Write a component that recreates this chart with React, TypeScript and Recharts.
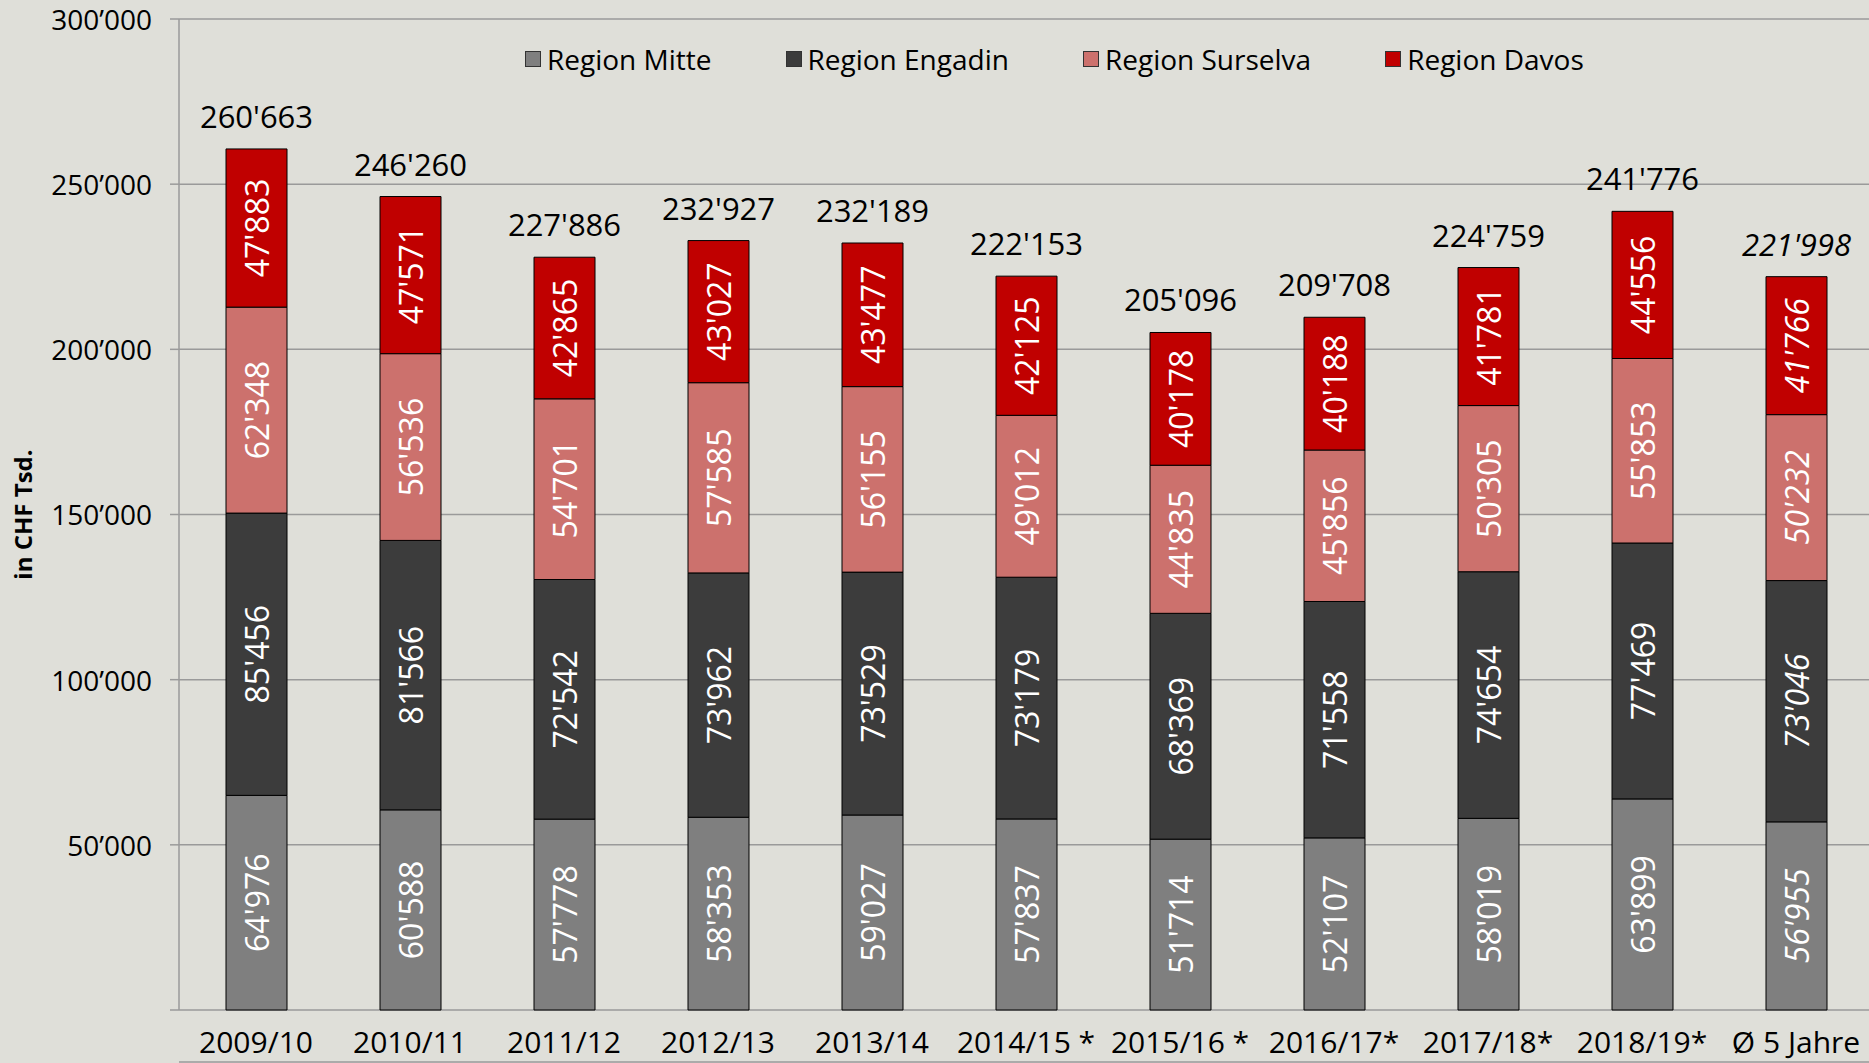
import { BarChart, Bar, XAxis, YAxis, CartesianGrid, Legend, LabelList, Label } from 'recharts'

const SEASONS = ['2009/10', '2010/11', '2011/12', '2012/13', '2013/14', '2014/15 *', '2015/16 *', '2016/17*', '2017/18*', '2018/19*', 'Ø 5 Jahre']
const MITTE = [64976, 60588, 57778, 58353, 59027, 57837, 51714, 52107, 58019, 63899, 56955]
const ENGADIN = [85456, 81566, 72542, 73962, 73529, 73179, 68369, 71558, 74654, 77469, 73046]
const SURSELVA = [62348, 56536, 54701, 57585, 56155, 49012, 44835, 45856, 50305, 55853, 50232]
const DAVOS = [47883, 47571, 42865, 43027, 43477, 42125, 40178, 40188, 41781, 44556, 41766]
const TOTALS = [260663, 246260, 227886, 232927, 232189, 222153, 205096, 209708, 224759, 241776, 221998]
const Y_TICKS = [0, 50000, 100000, 150000, 200000, 250000, 300000]
// category boundaries, for the tick marks between the bars
const EDGE_TICKS = [0, 1, 2, 3, 4, 5, 6, 7, 8, 9, 10, 11]
const LEGEND_ORDER = ['Region Mitte', 'Region Engadin', 'Region Surselva', 'Region Davos']

const COLORS = {
  mitte: '#7f7f7f',
  engadin: '#3c3c3c',
  surselva: '#cc716d',
  davos: '#c00000',
}

const FONT = '"Open Sans", "DejaVu Sans", sans-serif'
const GRID = '#9a9a9a'
const AVG_INDEX = SEASONS.length - 1

const data = SEASONS.map((season, i) => ({
  season,
  mitte: MITTE[i],
  engadin: ENGADIN[i],
  surselva: SURSELVA[i],
  davos: DAVOS[i],
  total: TOTALS[i],
}))

const fmt = (v: number, q = "'") => String(v).replace(/\B(?=(\d{3})+(?!\d))/g, q)

function box(props: any) {
  const vb = props.viewBox ?? props
  return { x: Number(vb.x), y: Number(vb.y), width: Number(vb.width), height: Number(vb.height) }
}

const InnerLabel = (props: any) => {
  const { x, y, width, height } = box(props)
  const cx = x + width / 2
  const cy = y + height / 2
  return (
    <text
      x={cx}
      y={cy}
      transform={`rotate(-90 ${cx} ${cy})`}
      textAnchor="middle"
      dominantBaseline="central"
      fill="#ffffff"
      fontSize={32}
      fontFamily={FONT}
      fontStyle={props.index === AVG_INDEX ? 'italic' : 'normal'}
    >
      {fmt(Number(props.value))}
    </text>
  )
}

const TotalLabel = (props: any) => {
  const { x, y, width } = box(props)
  return (
    <text
      x={x + width / 2}
      y={y - 21}
      textAnchor="middle"
      fill="#000"
      fontSize={31}
      fontFamily={FONT}
      fontStyle={props.index === AVG_INDEX ? 'italic' : 'normal'}
    >
      {fmt(Number(props.value))}
    </text>
  )
}

const LegendContent = (props: any) => {
  const items = [...(props.payload ?? [])].sort(
    (a: any, b: any) => LEGEND_ORDER.indexOf(a.value) - LEGEND_ORDER.indexOf(b.value)
  )
  return (
    <div style={{ display: 'flex', alignItems: 'center', fontFamily: FONT, fontSize: 28, color: '#000', whiteSpace: 'nowrap' }}>
      {items.map((p: any) => (
        <div key={p.value} style={{ display: 'flex', alignItems: 'center', marginRight: 74 }}>
          <span style={{ display: 'inline-block', width: 14, height: 14, background: p.color, border: '1px solid #333', marginRight: 6 }} />
          <span>{p.value}</span>
        </div>
      ))}
    </div>
  )
}

export default function App() {
  return (
    <div style={{ position: 'absolute', left: 0, top: 0, width: 1869, height: 1063, overflow: 'hidden', background: '#dfdfd9' }}>
      <BarChart width={1873} height={1063} data={data} margin={{ top: 19, right: 0, bottom: 0, left: 0 }} barSize={61}>
        <CartesianGrid xAxisId="cat" vertical={false} stroke={GRID} strokeWidth={1.5} />
        <XAxis
          xAxisId="edge"
          type="number"
          domain={[0, 11]}
          ticks={EDGE_TICKS}
          tick={false}
          tickSize={9}
          height={1}
          stroke={GRID}
          axisLine={{ stroke: GRID, strokeWidth: 1.5 }}
          tickLine={{ stroke: GRID, strokeWidth: 1.5 }}
        />
        <XAxis
          xAxisId="cat"
          dataKey="season"
          interval={0}
          axisLine={false}
          tickLine={false}
          tickSize={0}
          tickMargin={22}
          height={52}
          tick={{ fill: '#000', fontSize: 30, fontFamily: FONT }}
        />
        <YAxis
          domain={[0, 300000]}
          ticks={Y_TICKS}
          width={179}
          tickSize={9}
          tickMargin={18}
          stroke={GRID}
          axisLine={{ stroke: GRID, strokeWidth: 1.5 }}
          tickLine={{ stroke: GRID, strokeWidth: 1.5 }}
          tick={{ fill: '#000', fontSize: 28, fontFamily: FONT, dy: 1 }}
          tickFormatter={(v: number) => (v === 0 ? '' : fmt(v, '’'))}
        >
          <Label
            content={(p: any) => {
              const vb = p.viewBox
              const cy = vb.y + vb.height / 2
              return (
                <text
                  x={22}
                  y={cy}
                  transform={`rotate(-90 22 ${cy})`}
                  textAnchor="middle"
                  dominantBaseline="central"
                  fontSize={24}
                  fontWeight="bold"
                  fontFamily={FONT}
                  fill="#000"
                >
                  in CHF Tsd.
                </text>
              )
            }}
          />
        </YAxis>
        <Legend
          verticalAlign="middle"
          content={<LegendContent />}
          wrapperStyle={{ position: 'absolute', top: 40, left: 525, width: 'auto' }}
        />
        <Bar xAxisId="cat" dataKey="mitte" name="Region Mitte" stackId="a" fill={COLORS.mitte} stroke="#000" strokeWidth={1} isAnimationActive={false}>
          <LabelList dataKey="mitte" content={<InnerLabel />} />
        </Bar>
        <Bar xAxisId="cat" dataKey="engadin" name="Region Engadin" stackId="a" fill={COLORS.engadin} stroke="#000" strokeWidth={1} isAnimationActive={false}>
          <LabelList dataKey="engadin" content={<InnerLabel />} />
        </Bar>
        <Bar xAxisId="cat" dataKey="surselva" name="Region Surselva" stackId="a" fill={COLORS.surselva} stroke="#000" strokeWidth={1} isAnimationActive={false}>
          <LabelList dataKey="surselva" content={<InnerLabel />} />
        </Bar>
        <Bar xAxisId="cat" dataKey="davos" name="Region Davos" stackId="a" fill={COLORS.davos} stroke="#000" strokeWidth={1} isAnimationActive={false}>
          <LabelList dataKey="davos" content={<InnerLabel />} />
          <LabelList dataKey="total" content={<TotalLabel />} />
        </Bar>
      </BarChart>
    </div>
  )
}
